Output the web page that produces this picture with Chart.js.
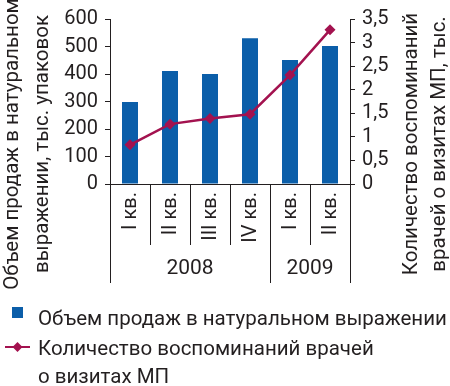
<!DOCTYPE html>
<html><head><meta charset="utf-8">
<script src="https://cdn.jsdelivr.net/npm/chart.js@4/dist/chart.umd.min.js"></script>
<style>html,body{margin:0;padding:0;background:#fff;}#wrap{width:450px;height:386px;position:relative;}</style>
</head><body><div id="wrap"><canvas id="c" width="450" height="386"></canvas></div>
<script>
const quarters = ['I кв.', 'II кв.', 'III кв.', 'IV кв.', 'I кв.', 'II кв.'];
const years = ['2008', '2009'];
const yearSpans = [4, 2];
const sales = [298, 411, 400, 530, 451, 502];
const mentions = [0.83, 1.27, 1.39, 1.48, 2.31, 3.27];
const leftTicks = [0, 100, 200, 300, 400, 500, 600];
const rightTicks = [0, 0.5, 1, 1.5, 2, 2.5, 3, 3.5];
const salesLabel = 'Объем продаж в натуральном выражении';
const mentionsLabel = ['Количество воспоминаний врачей', 'о визитах МП'];
const leftTitle = ['Объем продаж в натуральном', 'выражении, тыс. упаковок'];
const rightTitle = ['Количество воспоминаний', 'врачей о визитах МП, тыс.'];

const FONT = 'Roboto, "Noto Sans", sans-serif';
const INK = '#231f20';
const BLUE = '#0b5ea9';
const RED = '#a3124f';

const extras = {
  id: 'extras',
  afterDraw(chart) {
    const ctx = chart.ctx;
    const x = chart.scales.x;
    const area = chart.chartArea;
    ctx.save();
    ctx.fillStyle = INK;
    ctx.strokeStyle = INK;
    ctx.lineWidth = 1;
    // quarter labels
    ctx.font = '20px ' + FONT;
    quarters.forEach((q, i) => {
      const px = x.getPixelForValue(i);
      ctx.save();
      ctx.translate(px, area.bottom + 8);
      ctx.rotate(-Math.PI / 2);
      ctx.textAlign = 'right';
      ctx.textBaseline = 'middle';
      ctx.fillText(q, 0, 1);
      ctx.restore();
    });
    // group separators and year labels
    const bottom = area.bottom + 99;
    let start = 0;
    const bounds = [];
    ctx.font = '21px ' + FONT;
    ctx.textAlign = 'center';
    ctx.textBaseline = 'middle';
    years.forEach((y, gi) => {
      const end = start + yearSpans[gi] - 1;
      const l = start === 0 ? area.left : (x.getPixelForValue(start - 1) + x.getPixelForValue(start)) / 2;
      const r = end === quarters.length - 1 ? area.right : (x.getPixelForValue(end) + x.getPixelForValue(end + 1)) / 2;
      bounds.push(l, r);
      ctx.fillText(y, (l + r) / 2, area.bottom + 85);
      start = end + 1;
    });
    [...new Set(bounds.map(b => Math.round(b) + 0.5))].forEach(b => {
      ctx.beginPath();
      ctx.moveTo(b, area.bottom);
      ctx.lineTo(b, bottom);
      ctx.stroke();
    });
    // axis titles
    ctx.font = '20.5px ' + FONT;
    ctx.textAlign = 'center';
    ctx.textBaseline = 'alphabetic';
    const drawTitle = (lines, xs, cy) => {
      lines.forEach((t, i) => {
        ctx.save();
        ctx.translate(xs[i], cy);
        ctx.rotate(-Math.PI / 2);
        ctx.fillText(t, 0, 0);
        ctx.restore();
      });
    };
    drawTitle(leftTitle, [18, 48], 144);
    drawTitle(rightTitle, [417, 445], 144);
    // legend
    const barDs = chart.data.datasets.find(d => d.type === 'bar');
    const lineDs = chart.data.datasets.find(d => d.type === 'line');
    ctx.textAlign = 'left';
    ctx.fillStyle = barDs.backgroundColor;
    ctx.fillRect(12, 307, 11, 11);
    ctx.fillStyle = INK;
    ctx.fillText(salesLabel, 38, 325);
    ctx.strokeStyle = lineDs.borderColor;
    ctx.lineWidth = 2;
    ctx.beginPath();
    ctx.moveTo(5, 347); ctx.lineTo(30, 347); ctx.stroke();
    ctx.fillStyle = lineDs.borderColor;
    ctx.beginPath();
    ctx.moveTo(17.5, 342); ctx.lineTo(22.5, 347); ctx.lineTo(17.5, 352); ctx.lineTo(12.5, 347); ctx.closePath(); ctx.fill();
    ctx.fillStyle = INK;
    ctx.fillText(mentionsLabel[0], 38, 355);
    ctx.fillText(mentionsLabel[1], 38, 383);
    ctx.restore();
  }
};

new Chart(document.getElementById('c'), {
  data: {
    labels: quarters,
    datasets: [
      { type: 'line', label: 'mentions', data: mentions, yAxisID: 'y2', borderColor: RED, backgroundColor: RED,
        borderWidth: 2.5, pointStyle: 'rectRot', pointRadius: 5.5, pointBackgroundColor: RED, pointBorderWidth: 0, tension: 0, order: 0 },
      { type: 'bar', label: 'sales', data: sales, yAxisID: 'y', backgroundColor: BLUE,
        barPercentage: 0.4, categoryPercentage: 1, order: 1 }
    ]
  },
  options: {
    responsive: false,
    animation: false,
    devicePixelRatio: 1,
    layout: { padding: { top: 15, left: 0, right: 0, bottom: 0 } },
    plugins: { legend: { display: false }, tooltip: { enabled: false } },
    scales: {
      x: {
        offset: true,
        grid: { offset: true, drawOnChartArea: false, tickLength: 61, color: INK, lineWidth: 1 },
        border: { display: true, color: INK, width: 1 },
        ticks: { display: false },
        afterFit(s) { s.height = 202; }
      },
      y: {
        position: 'left', min: 0, max: 600,
        afterBuildTicks(s) { s.ticks = leftTicks.map(v => ({ value: v })); },
        grid: { drawOnChartArea: false, tickLength: 5, color: INK },
        border: { display: true, color: INK, width: 1 },
        ticks: { autoSkip: false, padding: 7, color: INK, font: { family: FONT, size: 20 } },
        afterFit(s) { s.width = 110; }
      },
      y2: {
        position: 'right', min: 0, max: 3.5,
        afterBuildTicks(s) { s.ticks = rightTicks.map(v => ({ value: v })); },
        grid: { drawOnChartArea: false, tickLength: 5, color: INK },
        border: { display: true, color: INK, width: 1 },
        ticks: { autoSkip: false, padding: 7, color: INK, font: { family: FONT, size: 20 },
          callback: v => String(v).replace('.', ',') },
        afterFit(s) { s.width = 100; }
      }
    }
  },
  plugins: [extras]
});
</script></body></html>
